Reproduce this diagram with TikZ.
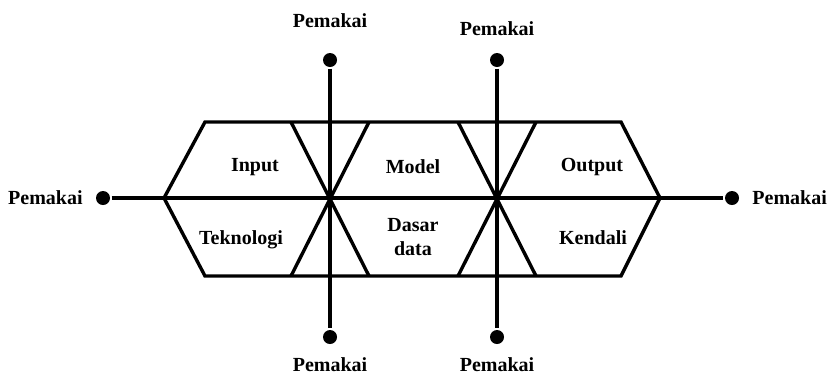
\documentclass[tikz,border=0pt]{standalone}
\usepackage{fontspec}
\setmainfont{Liberation Serif}
\usetikzlibrary{positioning}

\begin{document}
\begin{tikzpicture}[x=0.5pt,y=-0.5pt,line width=1.7pt,
  dot/.style={circle,fill,inner sep=0pt,minimum size=7pt},
  lbl/.style={font=\bfseries,inner sep=1pt},
  part/.style={font=\bfseries,align=center,inner sep=0pt}]
\useasboundingbox (0,0) rectangle (828,376);
% end points (users)
\node[dot] (dL) at (103,198) {};
\node[dot] (dR) at (732,198) {};
\node[dot] (dT1) at (330,60) {};
\node[dot] (dB1) at (330,337) {};
\node[dot] (dT2) at (497,60) {};
\node[dot] (dB2) at (497,337) {};
\node[lbl,left=4pt of dL] (uL) {Pemakai};
\node[lbl,right=4pt of dR] (uR) {Pemakai};
\node[lbl,above=10pt of dT1] (uT1) {Pemakai};
\node[lbl,above=6pt of dT2] (uT2) {Pemakai};
\node[lbl,below=4pt of dB1] (uB1) {Pemakai};
\node[lbl,below=4pt of dB2] (uB2) {Pemakai};
% hexagon
\coordinate (hL) at (164,198);
\coordinate (hTL) at (205,122);
\coordinate (hTR) at (621,122);
\coordinate (hR) at (660,198);
\coordinate (hBR) at (621,276);
\coordinate (hBL) at (205,276);
\draw (hL) -- (hTL) -- (hTR) -- (hR) -- (hBR) -- (hBL) -- cycle;
% axes
\draw (dL) -- (dR);
\draw (dT1) -- (dB1);
\draw (dT2) -- (dB2);
% crossing wedges
\foreach \c in {330,497}{
  \draw (\c-39,122) -- (\c+39,276);
  \draw (\c+39,122) -- (\c-39,276);
}
% parts
\node[part] (inp) at (255,167) {Input};
\node[part] (mod) at (413,167) {Model};
\node[part] (out) at (592,167) {Output};
\node[part] (tek) at (241,240) {Teknologi};
\node[part] (dat) at (413,237) {Dasar\\data};
\node[part] (ken) at (593,238) {Kendali};
\end{tikzpicture}
\end{document}
